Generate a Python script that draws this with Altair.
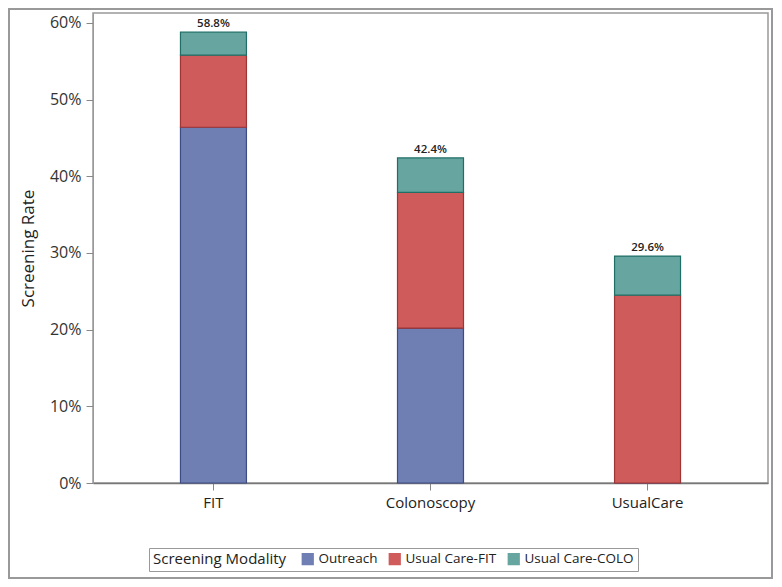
import altair as alt
import pandas as pd

categories = ["FIT", "Colonoscopy", "UsualCare"]
series = ["Outreach", "Usual Care-FIT", "Usual Care-COLO"]
outreach = [46.4, 20.2, 0.0]
uc_fit = [9.4, 17.7, 24.5]
uc_colo = [3.0, 4.5, 5.1]
totals = [58.8, 42.4, 29.6]
total_labels = ["58.8%", "42.4%", "29.6%"]

fills = ["#6F7EB3", "#D05B5B", "#66A5A0"]
strokes = ["#3E4C86", "#9E3434", "#1F6F66"]

rows = []
for i, c in enumerate(categories):
    for s, vals in zip(series, [outreach, uc_fit, uc_colo]):
        rows.append({"cat": c, "series": s, "order": series.index(s), "value": vals[i]})
df = pd.DataFrame(rows)
tot = pd.DataFrame({"cat": categories, "total": totals, "label": total_labels})

W, H = 675, 470
FONT = "Open Sans"

xenc = alt.X("cat:N", sort=categories, title=None,
             scale=alt.Scale(paddingInner=0.696, paddingOuter=0.403),
             axis=alt.Axis(labelAngle=0, labelFontSize=15, labelColor="#222",
                           tickSize=7, tickColor="#888", domainColor="#777",
                           domainWidth=1.5, labelPadding=5, labelFont=FONT))
yscale = alt.Scale(domain=[0, 61.3], nice=False)

bars = alt.Chart(df).mark_bar(strokeWidth=1.2, opacity=1).encode(
    x=xenc,
    y=alt.Y("sum(value):Q", scale=yscale, stack="zero", title="Screening Rate",
            axis=alt.Axis(values=[0, 10, 20, 30, 40, 50, 60], labelExpr="datum.value + '%'",
                          grid=False, labelFontSize=16, labelColor="#333", labelFont=FONT,
                          tickSize=7, tickColor="#888", domainColor="#999",
                          titleFontSize=17, titleFontWeight="normal", titleColor="#222",
                          titleFont=FONT, titlePadding=12, labelPadding=5)),
    color=alt.Color("series:N", sort=series, scale=alt.Scale(domain=series, range=fills),
                    legend=alt.Legend(title="Screening Modality", orient="none",
                                      legendX=56, legendY=535, direction="horizontal",
                                      titleOrient="left", titleFontSize=15,
                                      titleFontWeight="normal", titleColor="#222",
                                      titleFont=FONT, labelFont=FONT,
                                      labelFontSize=13.5, labelColor="#222",
                                      symbolType="square", symbolSize=150,
                                      symbolStrokeWidth=0,
                                      strokeColor="#999", padding=4,
                                      columnPadding=10, titlePadding=14)),
    stroke=alt.Stroke("series:N", sort=series, scale=alt.Scale(domain=series, range=strokes),
                      legend=None),
    order=alt.Order("order:Q"),
)

text = alt.Chart(tot).mark_text(dy=-8, fontSize=11.5, fontWeight=600, color="#222",
                                font=FONT).encode(
    x=alt.X("cat:N", sort=categories),
    y=alt.Y("total:Q", scale=yscale),
    text="label:N",
)

frame = alt.Chart(tot).mark_rect(fillOpacity=0, stroke="#999", strokeWidth=2).encode(
    x=alt.value(-84), x2=alt.value(679), y=alt.value(-4), y2=alt.value(565)
)

chart = alt.layer(bars, text, frame).properties(
    width=W, height=H,
    autosize=alt.AutoSizeParams(type="none"),
    padding={"left": 85, "top": 5, "right": 5, "bottom": 96},
).configure_view(stroke="#999", strokeWidth=1.5).configure_axis(labelFont=FONT)

chart.save("out.html", embed_options={"renderer": "svg", "actions": False})
